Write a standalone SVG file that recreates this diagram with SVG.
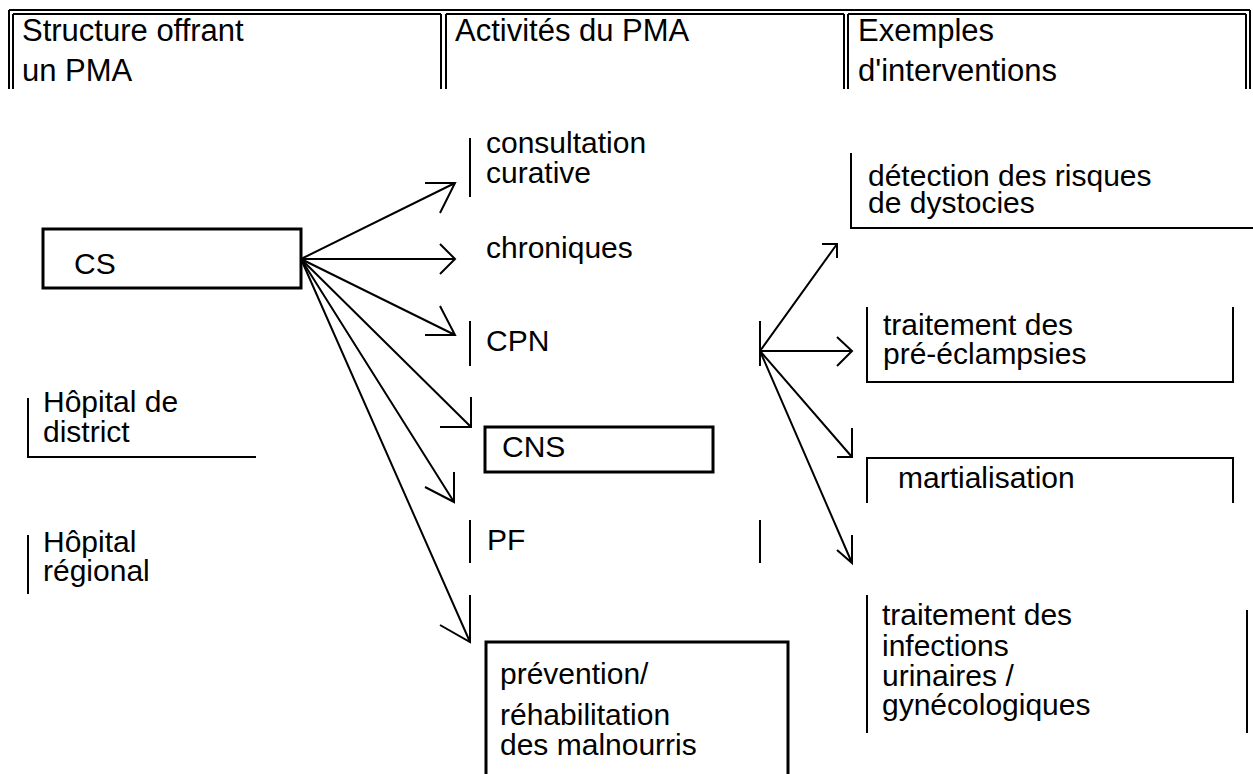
<svg xmlns="http://www.w3.org/2000/svg" width="1253" height="774" viewBox="0 0 1253 774">
<style>
  text { font-family: "Liberation Sans", Arial, sans-serif; font-size: 30px; fill: #000; }
  .hd { font-size: 31px; }
  .ln { stroke: #000; stroke-width: 2; fill: none; }
  .box { stroke: #000; stroke-width: 3; fill: none; }
  .arr { stroke: #000; stroke-width: 2; fill: none; stroke-linejoin: miter; }
</style>
<rect width="1253" height="774" fill="#fff"/>
<g id="header">
  <path class="ln" d="M9 10 H1250 M9 10 V89 M1250 10 V89 M13 14 H441 M446 14 H844 M848 14 H1246 M13 14 V89 M441 14 V89 M446 14 V89 M844 14 V89 M848 14 V89 M1246 14 V89"/>
  <text class="hd" x="22" y="41">Structure offrant</text>
  <text class="hd" x="22" y="81">un PMA</text>
  <text class="hd" x="455" y="41">Activités du PMA</text>
  <text class="hd" x="858" y="41">Exemples</text>
  <text class="hd" x="858" y="81">d'interventions</text>
</g>
<g id="node-cs">
  <rect class="box" x="43" y="229" width="258" height="59"/>
  <text x="74" y="274">CS</text>
</g>
<g id="node-hopital-district">
  <path class="ln" d="M28 398 V457 H256"/>
  <text x="43" y="412">Hôpital de</text>
  <text x="43" y="442">district</text>
</g>
<g id="node-hopital-regional">
  <path class="ln" d="M28 535 V594"/>
  <text x="43" y="552">Hôpital</text>
  <text x="43" y="581">régional</text>
</g>
<g id="node-consultation">
  <path class="ln" d="M470 138 V197"/>
  <text x="486" y="153">consultation</text>
  <text x="486" y="183">curative</text>
</g>
<g id="node-chroniques">
  <text x="486" y="258">chroniques</text>
</g>
<g id="node-cpn">
  <path class="ln" d="M470 321 V366 M760 321 V366"/>
  <text x="486" y="351">CPN</text>
</g>
<g id="node-cns">
  <rect class="box" x="485" y="427" width="228" height="45"/>
  <text x="502" y="457">CNS</text>
</g>
<g id="node-pf">
  <path class="ln" d="M470 520 V563 M760 520 V563"/>
  <text x="487" y="550">PF</text>
</g>
<g id="node-prevention">
  <path class="box" d="M486 774 V642 H788 V774"/>
  <text x="500" y="684">prévention/</text>
  <text x="500" y="725">réhabilitation</text>
  <text x="500" y="755">des malnourris</text>
</g>
<g id="node-detection">
  <path class="ln" d="M851 153 V228 H1253"/>
  <text x="868" y="186">détection des risques</text>
  <text x="868" y="213">de dystocies</text>
</g>
<g id="node-preeclampsie">
  <path class="ln" d="M867 307 V382 H1233 V307"/>
  <text x="883" y="335">traitement des</text>
  <text x="883" y="364">pré-éclampsies</text>
</g>
<g id="node-martialisation">
  <path class="ln" d="M867 503 V458 H1233 V503"/>
  <text x="898" y="488">martialisation</text>
</g>
<g id="node-infections">
  <path class="ln" d="M867 595 V733 M1247 610 V733"/>
  <text x="882" y="625">traitement des</text>
  <text x="882" y="656">infections</text>
  <text x="882" y="686">urinaires /</text>
  <text x="882" y="715">gynécologiques</text>
</g>
<g id="connectors">
  <path class="arr" d="M301 259 L455 183 M425 183 L455 183 L440 213"/>
  <path class="arr" d="M301 259 L455 259 M440 244 L455 259 L440 274"/>
  <path class="arr" d="M301 259 L455 335 M425 335 L455 335 L440 306"/>
  <path class="arr" d="M301 259 L471 427 M440 427 L471 427 L471 397"/>
  <path class="arr" d="M301 259 L454 502 M425 487 L454 502 L454 472"/>
  <path class="arr" d="M301 259 L470 642 M440 625 L470 642 L470 595"/>
  <path class="arr" d="M760 351 L837 244 M822 244 L837 244 L837 258"/>
  <path class="arr" d="M760 351 L852 351 M837 337 L852 351 L837 366"/>
  <path class="arr" d="M760 351 L852 457 M837 457 L852 457 L852 428"/>
  <path class="arr" d="M760 351 L852 563 M837 550 L852 563 L852 535"/>
</g>
</svg>
